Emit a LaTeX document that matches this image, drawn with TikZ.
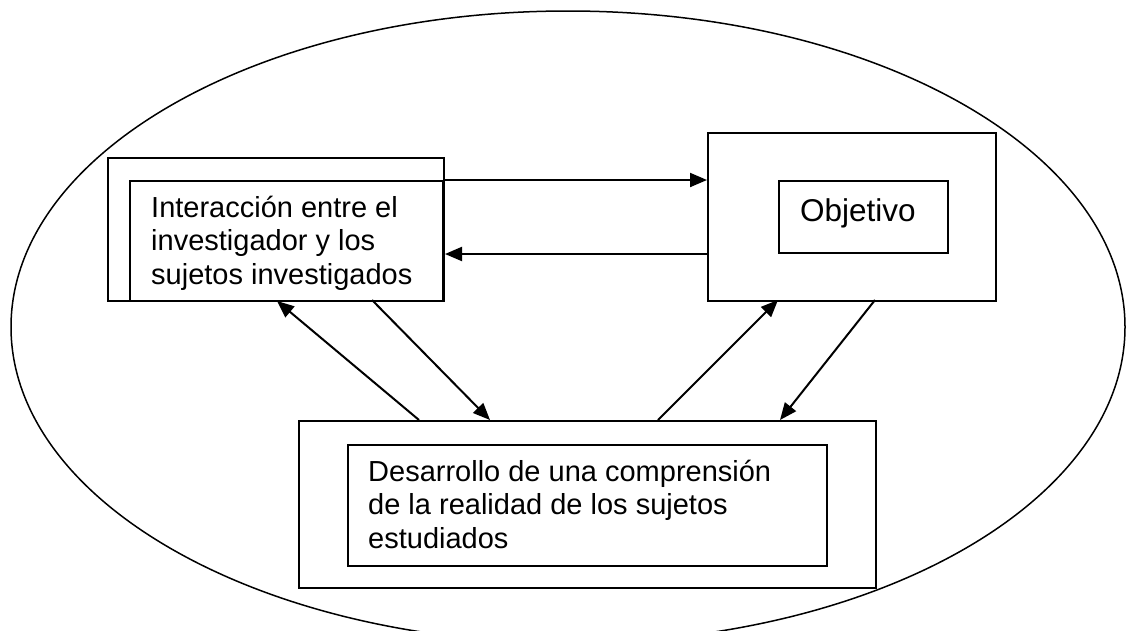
\documentclass[tikz,border=0pt]{standalone}
\usepackage{fontspec}
\setmainfont{Liberation Sans}
\usetikzlibrary{arrows.meta}
\begin{document}
\begin{tikzpicture}[x=1pt,y=-1pt,
  box/.style={draw,line width=2pt,fill=white,inner sep=0pt,anchor=north west},
  conn/.style={line width=2pt,-{Triangle[length=17pt,width=14pt]}},
  txt/.style={inner sep=0pt,anchor=base west,align=left,font=\fontsize{29}{33.5}\selectfont}]
\useasboundingbox (0,0) rectangle (1127,630);
\clip (0,0) rectangle (1127,630);
\fill[white] (0,0) rectangle (1127,630);
\draw[line width=1.5pt] (568,327) ellipse [x radius=557pt, y radius=316pt];
% left block
\node[box,minimum width=336pt,minimum height=143pt] (lo) at (107,157) {};
\node[box,minimum width=313pt,minimum height=120pt] (li) at (129,180) {};
\node[txt] (lt) at (151,284) {Interacción entre el\\investigador y los\\sujetos investigados};
% right block
\node[box,minimum width=288pt,minimum height=168pt] (oo) at (707,132) {};
\node[box,minimum width=169pt,minimum height=72pt] (oi) at (778,180) {};
\node[txt,font=\fontsize{31.5}{36}\selectfont] (ot) at (800,221) {Objetivo};
% bottom block
\node[box,minimum width=577pt,minimum height=167pt] (bo) at (298,420) {};
\node[box,minimum width=479pt,minimum height=121pt] (bi) at (347,444) {};
\node[txt] (bt) at (368,548) {Desarrollo de una comprensión\\de la realidad de los sujetos\\estudiados};
% connector ends
\coordinate (a1) at (419,420); \coordinate (a2) at (277,301);
\coordinate (b1) at (372,300); \coordinate (b2) at (490,420);
\coordinate (c1) at (658,420); \coordinate (c2) at (778,300);
\coordinate (d1) at (875,300); \coordinate (d2) at (780,420);
% connectors
\draw[conn] (li.north east) -- (li.north east -| oo.west);
\draw[conn] (oi.south -| oo.west) -- (oi.south -| lo.east);
\draw[conn] (a1) -- (a2);
\draw[conn] (b1) -- (b2);
\draw[conn] (c1) -- (c2);
\draw[conn] (d1) -- (d2);
\end{tikzpicture}
\end{document}
